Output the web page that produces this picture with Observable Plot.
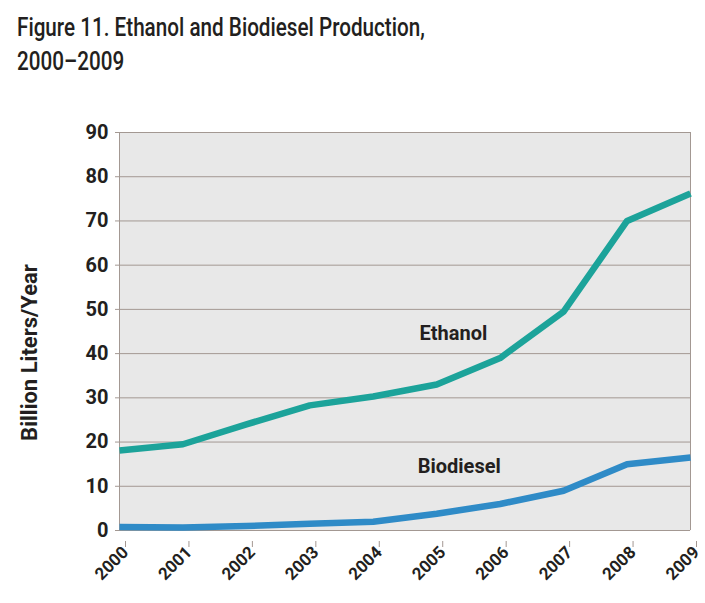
<!DOCTYPE html>
<html><head><meta charset="utf-8">
<script src="https://cdn.jsdelivr.net/npm/d3@7"></script>
<script src="https://cdn.jsdelivr.net/npm/@observablehq/plot@0.6"></script>
<style>
body{margin:0;background:#fff;}
#title{height:90px;box-sizing:border-box;padding:10px 0 0 17px;}
#title div{font:500 26px/34px Roboto, sans-serif;color:#231f20;transform:scaleX(0.795);transform-origin:0 0;white-space:nowrap;}
#chart svg{display:block;}
</style></head><body>
<div id="title"><div>Figure 11. Ethanol and Biodiesel Production,<br>2000–2009</div></div>
<div id="chart"></div>
<script>
const years = [2000, 2001, 2002, 2003, 2004, 2005, 2006, 2007, 2008, 2009];
const ethanol = [18.1, 19.5, 24, 28.3, 30.3, 33, 39, 49.5, 70, 76.2];
const biodiesel = [0.8, 0.7, 1, 1.5, 2, 3.8, 6, 9, 15, 16.5];
const yTicks = [0, 10, 20, 30, 40, 50, 60, 70, 80, 90];
const seriesNames = ["Ethanol", "Biodiesel"];
const seriesColors = ["#1ca39a", "#2f8bc7"];
const yLabel = "Billion Liters/Year";

const rows = [];
years.forEach((yr, i) => {
  rows.push({year: yr, value: ethanol[i], series: seriesNames[0]});
  rows.push({year: yr, value: biodiesel[i], series: seriesNames[1]});
});

const gridColor = "#a39892";
const textColor = "#231f20";
const font = "Roboto, sans-serif";

const chart = Plot.plot({
  width: 705,
  height: 513,
  marginTop: 42,
  marginBottom: 73,
  marginLeft: 119,
  marginRight: 15,
  style: {fontFamily: font, color: textColor, background: "#fff"},
  x: {type: "linear", domain: [2000, 2009]},
  y: {domain: [0, 90]},
  color: {domain: seriesNames, range: seriesColors},
  marks: [
    Plot.frame({fill: "#e8e8e8", stroke: null}),
    Plot.ruleY(yTicks.slice(1), {stroke: gridColor, strokeWidth: 1}),
    Plot.ruleY([0], {stroke: gridColor, strokeWidth: 1}),
    Plot.ruleX([2000, 2009], {stroke: gridColor, strokeWidth: 1}),
    Plot.axisY({ticks: yTicks, tickSize: 4, tickPadding: 7, fontSize: 20, fontWeight: 700, label: null, stroke: gridColor, fill: textColor}),
    Plot.axisX({ticks: years, tickFormat: d => String(d), tickRotate: -45, tickSize: 6, tickPadding: 2, dx: 6, dy: 11, fontSize: 17, fontWeight: 700, label: null, stroke: gridColor, fill: textColor}),
    Plot.line(rows, {x: "year", y: "value", z: "series", stroke: "series", strokeWidth: 6.5, strokeLinejoin: "round", strokeLinecap: "butt"}),
    Plot.text([seriesNames[0]], {x: 2004.73, y: 44.6, text: d => d, textAnchor: "start", fontSize: 20, fontWeight: 700, fill: textColor}),
    Plot.text([seriesNames[1]], {x: 2004.7, y: 14.5, text: d => d, textAnchor: "start", fontSize: 20, fontWeight: 700, fill: textColor}),
    Plot.text([yLabel], {frameAnchor: "left", rotate: -90, dx: -90, dy: 21, textAnchor: "middle", text: d => d, fontSize: 22, fontWeight: 700, fill: textColor})
  ]
});
document.getElementById("chart").appendChild(chart);
</script>
</body></html>
